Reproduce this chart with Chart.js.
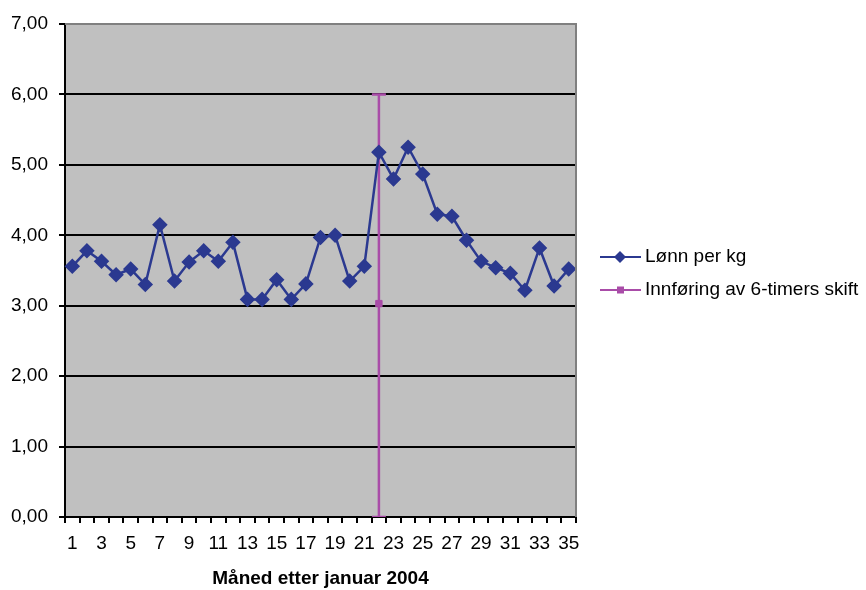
<!DOCTYPE html>
<html><head><meta charset="utf-8">
<script src="https://cdn.jsdelivr.net/npm/chart.js@4.4.1/dist/chart.umd.min.js"></script>
<style>html,body{margin:0;padding:0;background:#fff}#wrap{width:866px;height:590px}</style>
</head><body><div id="wrap"><canvas id="c" width="866" height="590"></canvas></div>
<script>
const months = Array.from({length:35},(_,i)=>String(i+1));
const lonnPerKg = [3.56,3.78,3.63,3.44,3.52,3.30,4.15,3.35,3.62,3.78,3.63,3.90,3.09,3.09,3.37,3.09,3.31,3.97,4.00,3.35,3.56,5.18,4.80,5.25,4.87,4.30,4.27,3.93,3.63,3.54,3.46,3.22,3.82,3.28,3.52];
const shiftMonth = '22';
const shiftMarker = 3.03;
const shiftRange = [0, 6];
const seriesNames = ['Lønn per kg','Innføring av 6-timers skift'];
const xTitle = 'Måned etter januar 2004';

const BLUE = '#2b3990';
const PURPLE = '#a94ca8';
const FONT = '"Liberation Sans", Arial, sans-serif';

const bgPlugin = {
  id:'bg',
  beforeDraw(chart){
    const {ctx, chartArea:a} = chart;
    ctx.save(); ctx.fillStyle='#c0c0c0'; ctx.fillRect(a.left,a.top,a.right-a.left,a.bottom-a.top); ctx.restore();
  },
  afterDatasetsDraw(chart){
    const {ctx, chartArea:a} = chart;
    ctx.save(); ctx.strokeStyle='#808080'; ctx.lineWidth=2;
    ctx.beginPath(); ctx.moveTo(a.left,a.top); ctx.lineTo(a.right,a.top); ctx.lineTo(a.right,a.bottom); ctx.stroke();
    ctx.restore();
  },
  afterDraw(chart){
    const ctx = chart.ctx;
    const items = [
      {y:257, color:BLUE, style:'diamond', text:seriesNames[0]},
      {y:290, color:PURPLE, style:'square', text:seriesNames[1]}
    ];
    ctx.save();
    items.forEach(it=>{
      ctx.strokeStyle=it.color; ctx.lineWidth=2;
      ctx.beginPath(); ctx.moveTo(600,it.y); ctx.lineTo(641,it.y); ctx.stroke();
      ctx.fillStyle=it.color;
      if(it.style==='diamond'){
        ctx.beginPath(); ctx.moveTo(620,it.y-6); ctx.lineTo(626,it.y); ctx.lineTo(620,it.y+6); ctx.lineTo(614,it.y); ctx.closePath(); ctx.fill();
      } else { ctx.fillRect(617,it.y-3.5,7,7); }
      ctx.fillStyle='#000'; ctx.font='19px '+FONT; ctx.textBaseline='middle'; ctx.textAlign='left';
      ctx.fillText(it.text,645,it.y);
    });
    ctx.restore();
  }
};

new Chart(document.getElementById('c'),{
  type:'line',
  data:{
    labels:months,
    datasets:[
      {label:seriesNames[0], data:lonnPerKg, borderColor:BLUE, backgroundColor:BLUE, borderWidth:2.5,
       pointStyle:'rectRot', pointRadius:6, pointHoverRadius:6, tension:0},
      {label:seriesNames[1], data:[{x:shiftMonth,y:shiftRange[0]},{x:shiftMonth,y:shiftMarker},{x:shiftMonth,y:shiftRange[1]}],
       borderColor:PURPLE, backgroundColor:PURPLE, borderWidth:2.5,
       pointStyle:['line','rect','line'], pointRadius:[7,4.5,7], pointBorderWidth:[2.5,1,2.5], pointBorderColor:PURPLE}
    ]
  },
  options:{
    responsive:false, animation:false, devicePixelRatio:1,
    layout:{padding:{top:24,right:290,left:0,bottom:0}},
    plugins:{legend:{display:false}, tooltip:{enabled:false}},
    scales:{
      x:{type:'category', offset:true,
        grid:{offset:true, drawOnChartArea:false, drawTicks:true, tickLength:6, color:'#000', lineWidth:2},
        border:{color:'#000', width:2},
        ticks:{autoSkip:false, maxRotation:0, color:'#000', font:{family:FONT,size:19}, padding:9,
          callback:function(v,i){return i%2===0?this.getLabelForValue(v):'';}},
        title:{display:true, text:xTitle, color:'#000', font:{family:FONT,size:19,weight:'bold'}, padding:{top:8,bottom:0}},
        afterFit(s){s.height=73;}
      },
      y:{min:0,max:7,
        grid:{color:(c)=>c.tick && c.tick.value===7?'#808080':'#000', lineWidth:2, tickLength:6, tickColor:'#000'},
        border:{color:'#000', width:2},
        ticks:{stepSize:1, color:'#000', font:{family:FONT,size:19}, padding:11,
          callback:(v)=>v.toFixed(2).replace('.',',')},
        afterFit(s){s.width=65;}
      }
    }
  },
  plugins:[bgPlugin]
});
</script></body></html>
